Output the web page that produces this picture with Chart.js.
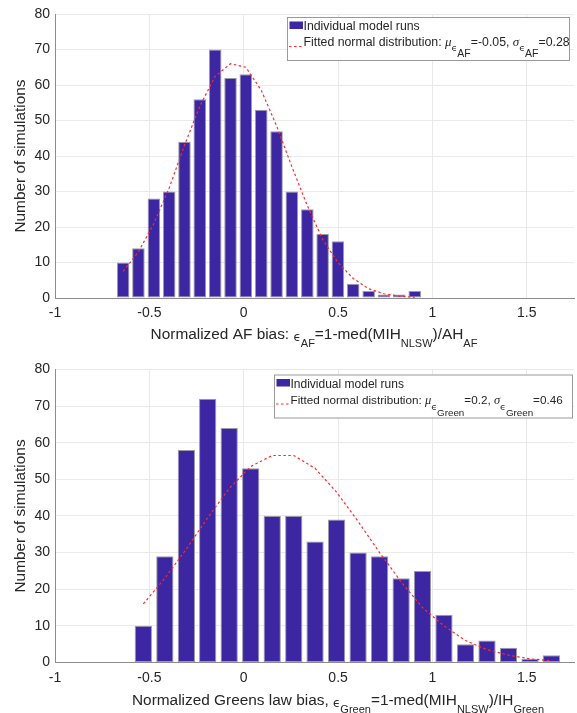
<!DOCTYPE html>
<html>
<head>
<meta charset="utf-8">
<script src="https://cdn.jsdelivr.net/npm/chart.js@4.4.1/dist/chart.umd.min.js"></script>
<style>
  html, body { margin: 0; padding: 0; background: #fff; }
  #wrap { position: relative; width: 577px; height: 713px; overflow: hidden; }
  canvas { position: absolute; left: 0; }
</style>
</head>
<body>
<div id="wrap">
  <canvas id="afChart" width="577" height="356" style="top:0"></canvas>
  <canvas id="greenChart" width="577" height="357" style="top:356px"></canvas>
</div>
<script>
// Histogram data

// Top panel: AF bias
const afBinCenters = [-0.639, -0.558, -0.476, -0.395, -0.314, -0.233, -0.151, -0.070, 0.011, 0.093,
                      0.174, 0.255, 0.337, 0.418, 0.499, 0.580, 0.662, 0.743, 0.824, 0.906];
const afCounts = [10, 14, 28, 30, 44, 56, 70, 62, 63, 53, 47, 30, 25, 18, 16, 4, 2, 1, 1, 2];
const afFit = [7.5, 13, 21, 31, 43, 54, 62.5, 66, 65, 58.5, 48.5, 37, 26, 16.5, 10, 5.5, 2.6, 1.2, 0.5, 0.2];

// Bottom panel: Greens law bias
const greenBinCenters = [-0.532, -0.418, -0.304, -0.191, -0.077, 0.037, 0.151, 0.265, 0.378, 0.492,
                         0.606, 0.720, 0.834, 0.947, 1.061, 1.175, 1.289, 1.403, 1.517, 1.630];
const greenCounts = [10, 29, 58, 72, 64, 53, 40, 40, 33, 39, 30, 29, 23, 25, 13, 5, 6, 4, 1, 2];
const greenFit = [16, 23, 31, 39.5, 47.5, 53.5, 56.5, 56.5, 53, 46.5, 38.5, 30, 22, 15, 10, 6, 3.5, 2, 1, 0.5];

// Axis ranges / ticks
const xRange = [-1, 1.75];
const xStep = 0.5;
const yRange = [0, 80];
const yStep = 10;

const legendBarLabel = 'Individual model runs';
const yTitle = 'Number of simulations';

const SANS = '"Liberation Sans", Arial, Helvetica, sans-serif';
const SERIF = '"Liberation Serif", "DejaVu Serif", serif';
const EPS_FONT = '"DejaVu Sans", ' + SANS;
const TEXT = '#262626';
const BAR = '#3c26a2';
const FIT = '#ff2a2a';

Chart.defaults.font.family = SANS;
Chart.defaults.color = TEXT;

// draw a line of text made of runs (normal / subscript pieces)
function drawRich(ctx, runs, x, y, align) {
  let total = 0;
  runs.forEach(r => {
    ctx.font = r.font;
    r.w = ctx.measureText(r.t).width;
    total += r.w;
  });
  let cx = align === 'center' ? x - total / 2 : x;
  ctx.textAlign = 'left';
  ctx.textBaseline = 'alphabetic';
  runs.forEach(r => {
    ctx.font = r.font;
    ctx.fillText(r.t, cx, y + (r.dy || 0));
    cx += r.w;
  });
}

function run(t, size, dy, family, style) {
  return { t: t, dy: dy || 0, font: (style || '') + ' ' + size + 'px ' + (family || SANS) };
}

function makeOverlay(cfg) {
  return {
    id: 'overlay',
    afterDraw(chart) {
      const ctx = chart.ctx;
      const a = chart.chartArea;
      ctx.save();
      ctx.fillStyle = TEXT;

      // y axis title
      ctx.save();
      ctx.translate(21, (a.top + a.bottom) / 2);
      ctx.rotate(-Math.PI / 2);
      ctx.font = '15.4px ' + SANS;
      ctx.textAlign = 'center';
      ctx.textBaseline = 'middle';
      ctx.fillText(yTitle, 0, 0);
      ctx.restore();

      // x axis title
      drawRich(ctx, cfg.xTitle, cfg.xTitleX, cfg.xTitleY, 'center');

      // legend box
      const L = cfg.legend;
      ctx.fillStyle = '#fff';
      ctx.fillRect(L.x, L.y, L.w, L.h);
      ctx.strokeStyle = '#9a9a9a';
      ctx.lineWidth = 1;
      ctx.strokeRect(L.x + 0.5, L.y + 0.5, L.w, L.h);

      ctx.fillStyle = BAR;
      ctx.fillRect(L.x + 2.5, L.y + 4.5, 13.5, 7.5);

      ctx.strokeStyle = FIT;
      ctx.lineWidth = 1.2;
      ctx.setLineDash([2.5, 2.5]);
      ctx.beginPath();
      ctx.moveTo(L.x + 2, L.y + 29.5);
      ctx.lineTo(L.x + 16, L.y + 29.5);
      ctx.stroke();
      ctx.setLineDash([]);

      ctx.fillStyle = TEXT;
      drawRich(ctx, [run(legendBarLabel, cfg.legendFont)], L.x + 16.5, L.y + 13, 'left');
      drawRich(ctx, cfg.fitRuns, L.x + 16.5, L.y + 29, 'left');
      ctx.restore();
    }
  };
}

function buildChart(canvasId, centers, counts, fit, barPct, padTop, xAxisHeight, overlay) {
  const bars = centers.map((x, i) => ({ x: x, y: counts[i] }));
  const curve = centers.map((x, i) => ({ x: x, y: fit[i] }));

  return new Chart(document.getElementById(canvasId), {
    type: 'bar',
    data: {
      datasets: [
        {
          type: 'line',
          data: curve,
          borderColor: FIT,
          borderWidth: 1.2,
          borderDash: [2.5, 2.5],
          pointRadius: 0,
          tension: 0,
          fill: false,
          order: 0
        },
        {
          type: 'bar',
          data: bars,
          backgroundColor: BAR,
          borderColor: '#9d9aa8',
          borderWidth: 1,
          borderSkipped: false,
          categoryPercentage: 1,
          barPercentage: barPct,
          order: 1
        }
      ]
    },
    options: {
      responsive: false,
      animation: false,
      events: [],
      layout: { padding: { top: padTop, right: 3, left: 0, bottom: 0 } },
      plugins: {
        legend: { display: false },
        tooltip: { enabled: false }
      },
      scales: {
        x: {
          type: 'linear',
          min: xRange[0],
          max: xRange[1],
          offset: false,
          grid: { color: '#e9e9e9', drawTicks: false, offset: false },
          border: { color: '#8c8c8c', width: 1 },
          ticks: {
            stepSize: xStep,
            includeBounds: false,
            autoSkip: false,
            maxRotation: 0,
            padding: 7,
            font: { size: 14 },
            color: TEXT,
            callback: v => String(Math.round(v * 100) / 100)
          },
          afterFit(s) { s.height = xAxisHeight; }
        },
        y: {
          min: yRange[0],
          max: yRange[1],
          grid: { color: '#e9e9e9', drawTicks: false },
          border: { color: '#8c8c8c', width: 1 },
          ticks: { stepSize: yStep, padding: 5, font: { size: 14 }, color: TEXT },
          afterFit(s) { s.width = 55; }
        }
      }
    },
    plugins: [overlay]
  });
}

const T = 15.4, TS = 11, TDY = 8.5;

buildChart('afChart', afBinCenters, afCounts, afFit, 0.82, 14, 58, makeOverlay({
  xTitle: [
    run('Normalized AF bias: ', T),
    run('\u03f5', 12, 2.5, EPS_FONT),
    run('AF', TS, TDY),
    run('=1-med(MIH', T),
    run('NLSW', TS, TDY),
    run(')/AH', T),
    run('AF', TS, TDY)
  ],
  xTitleX: 314,
  xTitleY: 338.5,
  legend: { x: 287, y: 17, w: 282, h: 43 },
  legendFont: 12.3,
  fitRuns: [
    run('Fitted normal distribution: ', 12.3),
    run('\u03bc', 13, 0, SERIF, 'italic'),
    run('\u03f5', 9.5, 5, EPS_FONT),
    run('AF', 10.5, 10.5),
    run('=-0.05, ', 12.3),
    run('\u03c3', 13, 0, SERIF, 'italic'),
    run('\u03f5', 9.5, 5, EPS_FONT),
    run('AF', 10.5, 10.5),
    run('=0.28', 12.3)
  ]
}));

buildChart('greenChart', greenBinCenters, greenCounts, greenFit, 0.81, 13.3, 50.5, makeOverlay({
  xTitle: [
    run('Normalized Greens law bias, ', T),
    run('\u03f5', 12, 2.5, EPS_FONT),
    run('Green', TS, TDY),
    run('=1-med(MIH', T),
    run('NLSW', TS, TDY),
    run(')/IH', T),
    run('Green', TS, TDY)
  ],
  xTitleX: 338,
  xTitleY: 348.5,
  legend: { x: 274, y: 18.5, w: 298, h: 43 },
  legendFont: 12,
  fitRuns: [
    run('Fitted normal distribution: ', 11.7),
    run('\u03bc', 12.5, 0, SERIF, 'italic'),
    run('\u03f5', 9.5, 6, EPS_FONT),
    run('Green', 9.8, 12),
    run('=0.2, ', 11.7),
    run('\u03c3', 12.5, 0, SERIF, 'italic'),
    run('\u03f5', 9.5, 6, EPS_FONT),
    run('Green', 9.8, 12),
    run('=0.46', 11.7)
  ]
}));
</script>
</body>
</html>
